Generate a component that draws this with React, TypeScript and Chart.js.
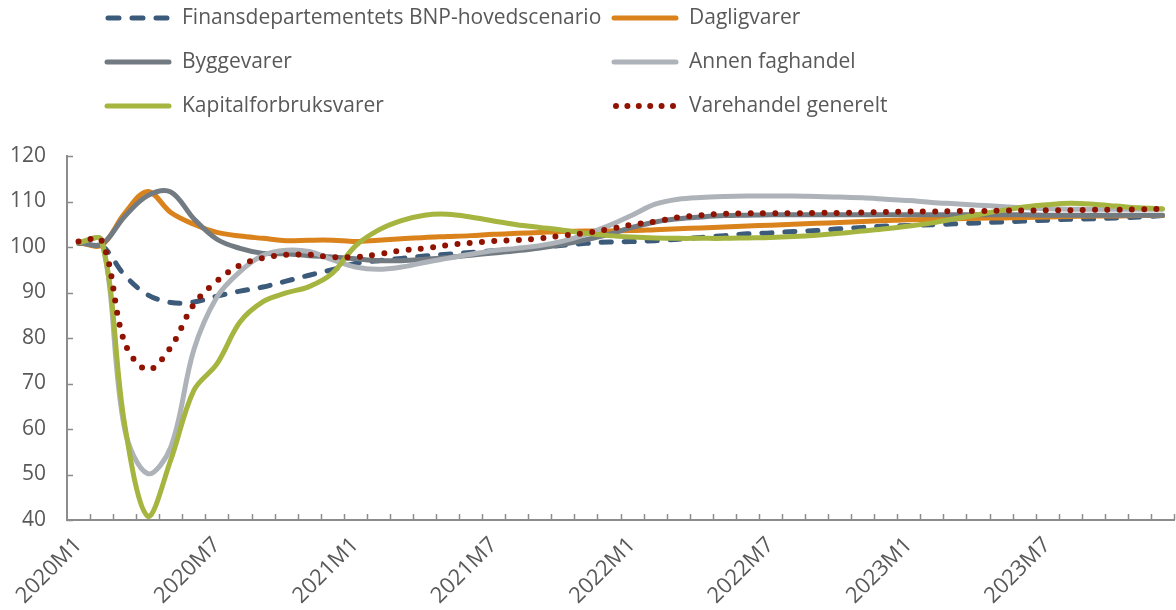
import React, { useEffect, useRef } from 'react';
import { Chart, registerables } from 'chart.js';

Chart.register(...registerables);

const months = [
  '2020M1', '2020M2', '2020M3', '2020M4', '2020M5', '2020M6', '2020M7', '2020M8', '2020M9', '2020M10', '2020M11', '2020M12',
  '2021M1', '2021M2', '2021M3', '2021M4', '2021M5', '2021M6', '2021M7', '2021M8', '2021M9', '2021M10', '2021M11', '2021M12',
  '2022M1', '2022M2', '2022M3', '2022M4', '2022M5', '2022M6', '2022M7', '2022M8', '2022M9', '2022M10', '2022M11', '2022M12',
  '2023M1', '2023M2', '2023M3', '2023M4', '2023M5', '2023M6', '2023M7', '2023M8', '2023M9', '2023M10', '2023M11', '2023M12',
];

const shownTicks = ['2020M1', '2020M7', '2021M1', '2021M7', '2022M1', '2022M7', '2023M1', '2023M7'];
const yTicks = [40, 50, 60, 70, 80, 90, 100, 110, 120];

const bnpHovedscenario = [
  100.8, 100.3, 93.8, 89.5, 87.8, 87.9, 89.2, 90.3, 91.2, 92.5, 93.8, 95.0,
  96.4, 97.0, 97.5, 98.0, 98.4, 98.8, 99.2, 99.5, 99.9, 100.4, 100.8, 101.1,
  101.2, 101.4, 101.7, 102.1, 102.5, 102.9, 103.1, 103.4, 103.6, 104.0, 104.3, 104.6,
  104.7, 104.9, 105.1, 105.3, 105.5, 105.7, 105.9, 106.1, 106.2, 106.4, 106.6, 106.9,
];

const dagligvarer = [
  101.0, 100.4, 107.4, 112.2, 107.6, 105.0, 103.2, 102.4, 101.9, 101.4, 101.5, 101.5,
  101.2, 101.5, 101.8, 102.1, 102.3, 102.5, 102.8, 103.0, 103.2, 103.4, 103.5, 103.5,
  103.6, 103.8, 104.0, 104.2, 104.4, 104.6, 104.8, 105.0, 105.2, 105.4, 105.6, 105.8,
  106.0, 106.1, 106.2, 106.3, 106.4, 106.5, 106.6, 106.7, 106.8, 106.8, 106.9, 106.9,
];

const byggevarer = [
  101.0, 100.6, 106.7, 111.3, 112.1, 106.2, 101.7, 99.7, 98.6, 98.5, 98.1, 97.8,
  97.4, 97.0, 97.0, 97.3, 97.7, 98.2, 98.7, 99.2, 99.8, 100.6, 101.6, 102.8,
  104.3, 105.5, 106.2, 106.6, 106.9, 107.0, 107.1, 107.1, 107.1, 107.1, 107.1, 107.1,
  107.1, 107.1, 107.1, 107.1, 107.1, 107.1, 107.0, 107.0, 107.0, 107.0, 107.0, 107.0,
];

const annenFaghandel = [
  101.0, 101.5, 60.0, 50.2, 56.0, 77.4, 89.0, 94.6, 98.2, 99.3, 99.0, 97.2,
  95.6, 95.1, 95.6, 96.6, 97.5, 98.4, 99.2, 99.7, 100.3, 101.3, 102.8, 104.7,
  107.0, 109.4, 110.5, 110.9, 111.1, 111.2, 111.2, 111.2, 111.1, 111.0, 110.8, 110.5,
  110.2, 109.8, 109.5, 109.2, 108.9, 108.6, 108.4, 108.3, 108.3, 108.3, 108.3, 108.3,
];

const kapitalforbruksvarer = [
  101.0, 101.5, 61.0, 40.8, 53.2, 68.5, 74.3, 83.5, 88.0, 89.9, 91.3, 94.2,
  100.2, 103.7, 105.8, 107.0, 107.2, 106.6, 105.7, 104.9, 104.3, 103.7, 103.0, 102.5,
  102.2, 102.0, 101.9, 101.9, 101.9, 102.0, 102.1, 102.3, 102.6, 103.0, 103.5, 104.0,
  104.6, 105.3, 106.2, 107.1, 108.0, 108.8, 109.3, 109.6, 109.4, 109.0, 108.6, 108.4,
];

const varehandelGenerelt = [
  101.2, 101.4, 79.0, 73.0, 78.0, 87.4, 92.5, 96.0, 97.6, 98.3, 98.3, 97.8,
  97.8, 98.4, 99.2, 99.7, 100.4, 100.9, 101.3, 101.5, 101.9, 102.5, 103.1, 103.9,
  104.9, 105.6, 106.5, 107.0, 107.3, 107.4, 107.4, 107.4, 107.5, 107.5, 107.6, 107.7,
  107.8, 107.8, 107.9, 107.9, 108.0, 108.0, 108.1, 108.1, 108.2, 108.2, 108.3, 108.4,
];

const FONT = '"Open Sans", sans-serif';
const TEXT = '#595959';
const AXIS = '#8c8c8c';

const series = [
  { label: 'Finansdepartementets BNP-hovedscenario', data: bnpHovedscenario, color: '#3c5a7a', dash: [10, 13], width: 5, col: 0, row: 0 },
  { label: 'Dagligvarer', data: dagligvarer, color: '#da821c', dash: [], width: 5, col: 1, row: 0 },
  { label: 'Byggevarer', data: byggevarer, color: '#737b82', dash: [], width: 5, col: 0, row: 1 },
  { label: 'Annen faghandel', data: annenFaghandel, color: '#adb3b8', dash: [], width: 5, col: 1, row: 1 },
  { label: 'Kapitalforbruksvarer', data: kapitalforbruksvarer, color: '#a5b53f', dash: [], width: 5, col: 0, row: 2 },
  { label: 'Varehandel generelt', data: varehandelGenerelt, color: '#901200', dash: [0, 12.3], width: 6, col: 1, row: 2 },
];

const legendPlugin = {
  id: 'customLegend',
  afterDraw(chart: any) {
    const ctx = chart.ctx;
    const colX = [105, 612];
    const rowY = [18, 62, 106];
    ctx.save();
    series.forEach((s) => {
      const x0 = colX[s.col];
      const y = rowY[s.row];
      ctx.beginPath();
      ctx.strokeStyle = s.color;
      ctx.lineWidth = s.width;
      ctx.lineCap = 'round';
      if (s.dash.length && s.dash[0] === 0) {
        ctx.setLineDash([0, 11.4]);
        ctx.moveTo(x0 + 4, y);
        ctx.lineTo(x0 + 66, y);
      } else if (s.dash.length) {
        ctx.setLineDash([11, 13]);
        ctx.moveTo(x0 + 3, y);
        ctx.lineTo(x0 + 63, y);
      } else {
        ctx.setLineDash([]);
        ctx.moveTo(x0 + 2, y);
        ctx.lineTo(x0 + 64, y);
      }
      ctx.stroke();
      ctx.setLineDash([]);
      ctx.fillStyle = TEXT;
      ctx.font = '21px ' + FONT;
      ctx.textBaseline = 'middle';
      ctx.textAlign = 'left';
      ctx.fillText(s.label, x0 + 77, y);
    });
    ctx.restore();
  },
};

const tickMarksPlugin = {
  id: 'innerTicks',
  afterDraw(chart: any) {
    const ctx = chart.ctx;
    const xs = chart.scales.x;
    const ys = chart.scales.y;
    const area = chart.chartArea;
    const half = (xs.getPixelForValue(1) - xs.getPixelForValue(0)) / 2;
    ctx.save();
    ctx.strokeStyle = AXIS;
    ctx.lineWidth = 1.5;
    ctx.beginPath();
    for (let i = 0; i < months.length; i++) {
      const x = Math.round(xs.getPixelForValue(i) + half) + 0.5;
      ctx.moveTo(x, area.bottom);
      ctx.lineTo(x, area.bottom - 6);
    }
    yTicks.forEach((v) => {
      const y = Math.round(ys.getPixelForValue(v)) + 0.5;
      ctx.moveTo(area.left, y);
      ctx.lineTo(area.left + 6, y);
    });
    ctx.stroke();
    ctx.restore();
  },
};

export default function App() {
  const ref = useRef<HTMLCanvasElement>(null);
  useEffect(() => {
    document.body.style.margin = '0';
    Chart.defaults.font.family = FONT;
    const chart = new Chart(ref.current as HTMLCanvasElement, {
      type: 'line',
      data: {
        labels: months,
        datasets: series.map((s, i) => ({
          label: s.label,
          data: s.data,
          borderColor: s.color,
          backgroundColor: s.color,
          borderWidth: s.width,
          borderDash: s.dash,
          borderCapStyle: 'round' as const,
          borderJoinStyle: 'round' as const,
          pointRadius: 0,
          fill: false,
          tension: 0.35,
          order: series.length - i,
        })),
      },
      options: {
        responsive: false,
        animation: false,
        devicePixelRatio: 1,
        layout: { padding: { top: 156, right: 2, left: 0, bottom: 0 } },
        plugins: { legend: { display: false }, tooltip: { enabled: false } },
        scales: {
          x: {
            type: 'category',
            offset: true,
            grid: { display: false, drawTicks: false },
            border: { display: true, color: AXIS, width: 2 },
            afterFit: (s: any) => {
              s.height = 90;
              s.paddingLeft = 0;
              s.paddingRight = 0;
            },
            ticks: {
              autoSkip: false,
              minRotation: 45,
              maxRotation: 45,
              padding: 12,
              color: TEXT,
              font: { size: 22, family: FONT },
              callback: (_v: any, idx: number) => (shownTicks.includes(months[idx]) ? months[idx] : ''),
            },
          },
          y: {
            min: 40,
            max: 120,
            grid: { display: false, drawTicks: false },
            border: { display: true, color: AXIS, width: 2 },
            afterFit: (s: any) => {
              s.width = 67;
              s.paddingTop = 0;
              s.paddingBottom = 0;
            },
            ticks: {
              stepSize: 10,
              padding: 21,
              color: TEXT,
              font: { size: 21, family: FONT },
            },
          },
        },
      },
      plugins: [legendPlugin, tickMarksPlugin],
    });
    return () => chart.destroy();
  }, []);
  return (
    <div style={{ width: 1176, height: 610 }}>
      <canvas ref={ref} width={1176} height={610} />
    </div>
  );
}
